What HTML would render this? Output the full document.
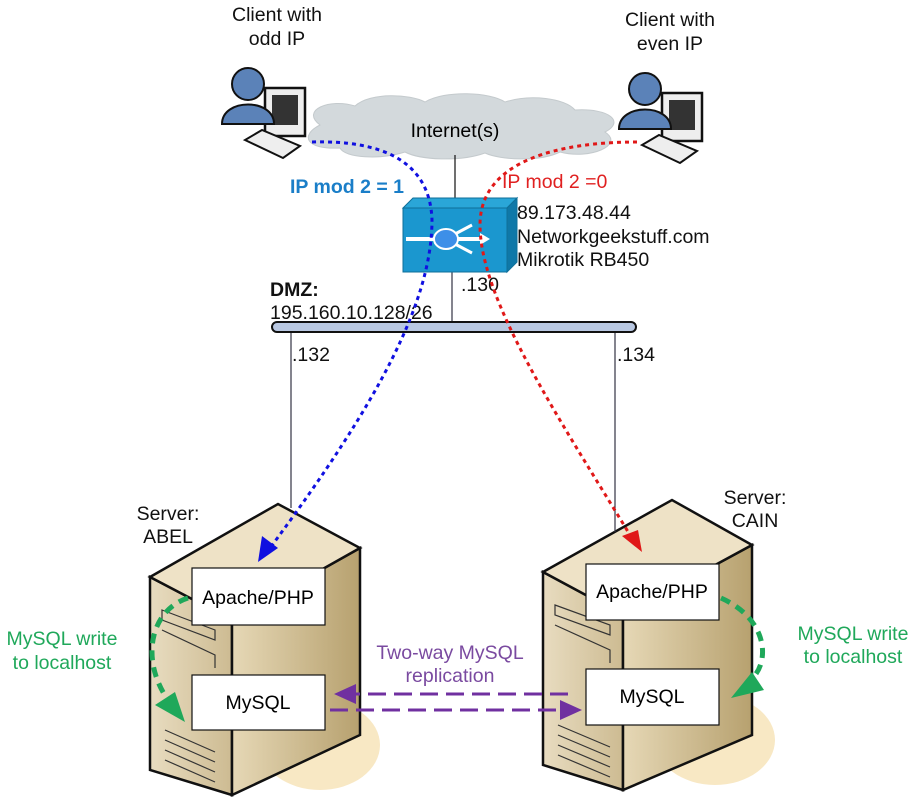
<!DOCTYPE html>
<html><head><meta charset="utf-8"><style>
body{margin:0;background:#fff;}
svg{display:block;font-family:"Liberation Sans",Arial,sans-serif;}
</style></head><body>
<svg width="924" height="805" viewBox="0 0 924 805" xmlns="http://www.w3.org/2000/svg">
<defs>
<linearGradient id="side" x1="0" x2="1"><stop offset="0" stop-color="#e8dcc0"/><stop offset="1" stop-color="#cdbb92"/></linearGradient>
<linearGradient id="front" x1="0" x2="1"><stop offset="0" stop-color="#e6d8b6"/><stop offset="1" stop-color="#b7a16f"/></linearGradient>
</defs>

<ellipse cx="320" cy="745" rx="60" ry="45" fill="#f8e8c4"/>
<ellipse cx="715" cy="740" rx="60" ry="45" fill="#f8e8c4"/>

<!-- ABEL server -->
<polygon points="150,577 232,620 232,795 150,770" fill="url(#side)" stroke="#111" stroke-width="2.5"/>
<polygon points="232,620 360,548 360,735 232,795" fill="url(#front)" stroke="#111" stroke-width="2.5"/>
<polygon points="150,577 278,504 360,548 232,620" fill="#eee2c6" stroke="#111" stroke-width="2.5"/>
<g stroke="#333" fill="none" stroke-width="1.2">
<path d="M162,610 L215,630 L215,640 L162,620Z"/><path d="M162,630 L215,655 L215,668"/><path d="M165,730 L215,752"/><path d="M165,740 L215,762"/><path d="M165,750 L215,772"/><path d="M165,760 L215,782"/>
</g>
<!-- CAIN server -->
<polygon points="543,572 623,615 623,790 543,765" fill="url(#side)" stroke="#111" stroke-width="2.5"/>
<polygon points="623,615 752,545 752,735 623,790" fill="url(#front)" stroke="#111" stroke-width="2.5"/>
<polygon points="543,572 672,500 752,545 623,615" fill="#eee2c6" stroke="#111" stroke-width="2.5"/>
<g stroke="#333" fill="none" stroke-width="1.2">
<path d="M555,605 L610,625 L610,635 L555,615Z"/><path d="M555,625 L610,650 L610,663"/><path d="M558,725 L610,747"/><path d="M558,735 L610,757"/><path d="M558,745 L610,767"/><path d="M558,755 L610,777"/>
</g>

<g font-size="19.5" text-anchor="middle">
<rect x="192" y="568" width="133" height="57" fill="#fff" stroke="#111" stroke-width="1.2"/>
<text x="258" y="604">Apache/PHP</text>
<rect x="192" y="675" width="133" height="55" fill="#fff" stroke="#111" stroke-width="1.2"/>
<text x="258" y="709">MySQL</text>
<rect x="586" y="564" width="133" height="56" fill="#fff" stroke="#111" stroke-width="1.2"/>
<text x="652" y="598">Apache/PHP</text>
<rect x="586" y="669" width="133" height="56" fill="#fff" stroke="#111" stroke-width="1.2"/>
<text x="652" y="703">MySQL</text>
</g>

<!-- cloud -->
<path d="M320,125 C300,110 330,98 355,106 C370,92 410,94 425,102 C445,90 490,92 505,102 C530,94 565,98 575,110 C610,108 625,122 605,132 C625,145 590,160 560,152 C540,162 500,160 485,153 C460,162 420,160 405,152 C380,160 345,158 340,148 C305,150 300,135 320,125Z" fill="#d3d9dc" stroke="#c4cacd"/>
<text x="455" y="137" font-size="19.5" text-anchor="middle">Internet(s)</text>

<line x1="455" y1="155" x2="455" y2="202" stroke="#111" stroke-width="1.2"/>
<line x1="452" y1="270" x2="452" y2="322" stroke="#334" stroke-width="1.2"/>
<line x1="291" y1="332" x2="291" y2="508" stroke="#334" stroke-width="1.2"/>
<line x1="615" y1="332" x2="615" y2="532" stroke="#334" stroke-width="1.2"/>
<rect x="272" y="322" width="364" height="10" rx="5" fill="#b9c8e2" stroke="#111" stroke-width="2"/>

<!-- router -->
<polygon points="403,208 413,198 517,198 507,208" fill="#2aa6d8" stroke="#0f6f99"/>
<polygon points="507,208 517,198 517,262 507,272" fill="#0f78a8" stroke="#0f6f99"/>
<rect x="403" y="208" width="104" height="64" fill="#1b97cf" stroke="#0f6f99"/>
<line x1="406" y1="239" x2="436" y2="239" stroke="#fff" stroke-width="4"/>
<line x1="455" y1="239" x2="480" y2="239" stroke="#fff" stroke-width="4"/>
<polygon points="480,233 490,239 480,245" fill="#fff"/>
<line x1="455" y1="234" x2="472" y2="225" stroke="#fff" stroke-width="3"/>
<line x1="455" y1="244" x2="472" y2="253" stroke="#fff" stroke-width="3"/>
<ellipse cx="446" cy="239" rx="12" ry="10" fill="#3d8fe8" stroke="#fff" stroke-width="2"/>

<!-- clients -->
<g id="cl">
<rect x="265" y="88" width="40" height="48" fill="#eee" stroke="#111" stroke-width="2.5"/>
<rect x="272" y="95" width="26" height="30" fill="#333"/>
<polygon points="245,140 283,158 300,146 262,130" fill="#eee" stroke="#111" stroke-width="2"/>
<circle cx="248" cy="84" r="16" fill="#5b82b8" stroke="#111" stroke-width="2"/>
<path d="M222,124 C222,98 274,98 274,124 Z" fill="#5b82b8" stroke="#111" stroke-width="2"/>
</g>
<use href="#cl" transform="translate(397,5)"/>

<g font-size="19.5" fill="#111">
<text x="277" y="21" text-anchor="middle">Client with</text>
<text x="277" y="45" text-anchor="middle">odd IP</text>
<text x="670" y="26" text-anchor="middle">Client with</text>
<text x="670" y="50" text-anchor="middle">even IP</text>
<text x="517" y="219">89.173.48.44</text>
<text x="517" y="243">Networkgeekstuff.com</text>
<text x="517" y="266">Mikrotik RB450</text>
<text x="461" y="291">.130</text>
<text x="270" y="296" font-weight="bold">DMZ:</text>
<text x="270" y="319">195.160.10.128/26</text>
<text x="292" y="361">.132</text>
<text x="617" y="361">.134</text>
<text x="168" y="520" text-anchor="middle">Server:</text>
<text x="168" y="543" text-anchor="middle">ABEL</text>
<text x="755" y="504" text-anchor="middle">Server:</text>
<text x="755" y="527" text-anchor="middle">CAIN</text>
</g>
<text x="290" y="193" font-size="19.5" font-weight="bold" fill="#1a7ec8">IP mod 2 = 1</text>
<text x="502" y="188" font-size="19.5" fill="#e02020">IP mod 2 =0</text>
<g font-size="19.5" fill="#1fa85a" text-anchor="middle">
<text x="62" y="645">MySQL write</text><text x="62" y="669">to localhost</text>
<text x="853" y="640">MySQL write</text><text x="853" y="663">to localhost</text>
</g>
<g font-size="19.5" fill="#7a4aa0" text-anchor="middle">
<text x="450" y="659">Two-way MySQL</text><text x="450" y="682">replication</text>
</g>

<path d="M312,142 C380,140 430,160 432,220 C432,300 380,400 270,548" fill="none" stroke="#1010e0" stroke-width="3" stroke-dasharray="4,4"/>
<polygon points="258,562 262,536 278,548" fill="#1010e0"/>
<path d="M637,142 C560,142 480,160 480,225 C480,300 560,420 630,535" fill="none" stroke="#e01818" stroke-width="3" stroke-dasharray="4,4"/>
<polygon points="642,552 622,536 638,530" fill="#e01818"/>
<path d="M188,598 C150,610 140,660 168,700" fill="none" stroke="#1fa85a" stroke-width="5" stroke-dasharray="10,7"/>
<polygon points="185,722 155,705 175,692" fill="#1fa85a"/>
<path d="M721,598 C770,620 770,665 750,680" fill="none" stroke="#1fa85a" stroke-width="5" stroke-dasharray="10,7"/>
<polygon points="731,698 752,672 764,690" fill="#1fa85a"/>
<line x1="568" y1="694" x2="352" y2="694" stroke="#7030a0" stroke-width="3" stroke-dasharray="18,8"/>
<polygon points="334,694 356,684 356,704" fill="#7030a0"/>
<line x1="330" y1="710" x2="562" y2="710" stroke="#7030a0" stroke-width="3" stroke-dasharray="18,8"/>
<polygon points="582,710 560,700 560,720" fill="#7030a0"/>
</svg>
</body></html>
